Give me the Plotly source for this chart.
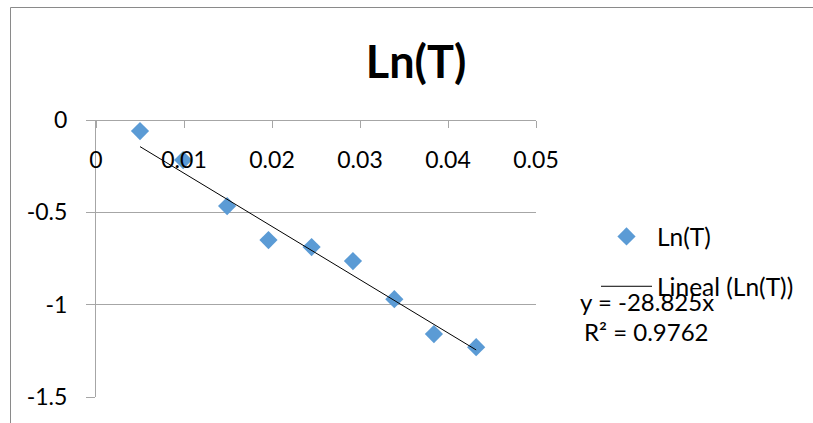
import plotly.graph_objects as go

# ---- data ----
x_vals = [0.0050, 0.0099, 0.0149, 0.0196, 0.0245, 0.0292, 0.0339, 0.0384, 0.0432]
y_vals = [-0.060, -0.217, -0.466, -0.650, -0.688, -0.764, -0.970, -1.159, -1.230]
trend_slope = -28.825
trend_r2 = 0.9762
x_ticks = [0, 0.01, 0.02, 0.03, 0.04, 0.05]
x_ticklabels = ["0", "0.01", "0.02", "0.03", "0.04", "0.05"]
y_ticks = [0, -0.5, -1, -1.5]
y_ticklabels = ["0", "-0.5", "-1", "-1.5"]
series_name = "Ln(T)"
trend_name = "Lineal (Ln(T))"
chart_title = "Ln(T)"

W, H = 813, 423
L, R, T, B = 96, 536, 120, 397  # plot area in pixels


def px_x(p):
    return (p - L) / (R - L)


def px_y(p):
    return (B - p) / (B - T)


FONT = "Lato, Calibri, sans-serif"
GRAY = "#a6a6a6"

trend_x = [min(x_vals), max(x_vals)]
trend_y = [trend_slope * v for v in trend_x]

fig = go.Figure()
fig.add_trace(go.Scatter(
    x=x_vals, y=y_vals, mode="markers", name=series_name, legendgroup="a",
    marker=dict(symbol="diamond", size=14, color="#5b9bd5"),
))
fig.add_trace(go.Scatter(
    x=trend_x, y=trend_y, mode="lines", name=trend_name, legendgroup="b",
    line=dict(color="black", width=1),
))

fig.update_layout(
    width=W, height=H,
    margin=dict(l=L, r=W - R, t=T, b=H - B, pad=0),
    paper_bgcolor="white", plot_bgcolor="white",
    font=dict(family=FONT, size=23, color="black"),
    title=dict(text="<b>" + chart_title + "</b>", font=dict(family=FONT, size=45, color="black"),
               x=416 / W, xref="container", xanchor="center",
               y=1 - 62 / H, yref="container", yanchor="middle"),
    showlegend=True,
    legend=dict(x=px_x(596), xanchor="left", y=px_y(214), yanchor="top",
                font=dict(family=FONT, size=24.5, color="black"),
                tracegroupgap=15, itemwidth=51, bgcolor="rgba(0,0,0,0)"),
    xaxis=dict(range=[0, 0.05], anchor="free", position=1, side="bottom",
               showline=True, linecolor=GRAY, linewidth=1,
               ticks="outside", ticklen=7, tickcolor=GRAY, tickwidth=1,
               tickvals=x_ticks, ticktext=x_ticklabels, ticklabelstandoff=12,
               showgrid=False, zeroline=False,
               tickfont=dict(family=FONT, size=23, color="black")),
    yaxis=dict(range=[-1.5, 0], showline=True, linecolor=GRAY, linewidth=1,
               ticks="outside", ticklen=9, tickcolor=GRAY, tickwidth=1,
               tickvals=y_ticks, ticktext=y_ticklabels, ticklabelstandoff=14,
               showgrid=True, gridcolor=GRAY, gridwidth=1, zeroline=False,
               tickfont=dict(family=FONT, size=23, color="black")),
)

# chart-area border (gray frame, partially off-screen)
fig.add_shape(type="rect", xref="paper", yref="paper",
              x0=px_x(10.5), x1=px_x(900), y0=px_y(500), y1=px_y(7.5),
              line=dict(color="#8a8a8a", width=1), fillcolor="rgba(0,0,0,0)", layer="above")

fig.add_annotation(xref="paper", yref="paper", x=px_x(578), y=px_y(301),
                   xanchor="left", yanchor="middle", showarrow=False,
                   text="y = %.3fx" % trend_slope,
                   font=dict(family=FONT, size=24, color="black"))
fig.add_annotation(xref="paper", yref="paper", x=px_x(582), y=px_y(331),
                   xanchor="left", yanchor="middle", showarrow=False,
                   text="R² = %.4f" % trend_r2,
                   font=dict(family=FONT, size=24, color="black"))

fig.write_html("out.html", config={"displayModeBar": False},
               post_script="document.body.style.margin='0';")
